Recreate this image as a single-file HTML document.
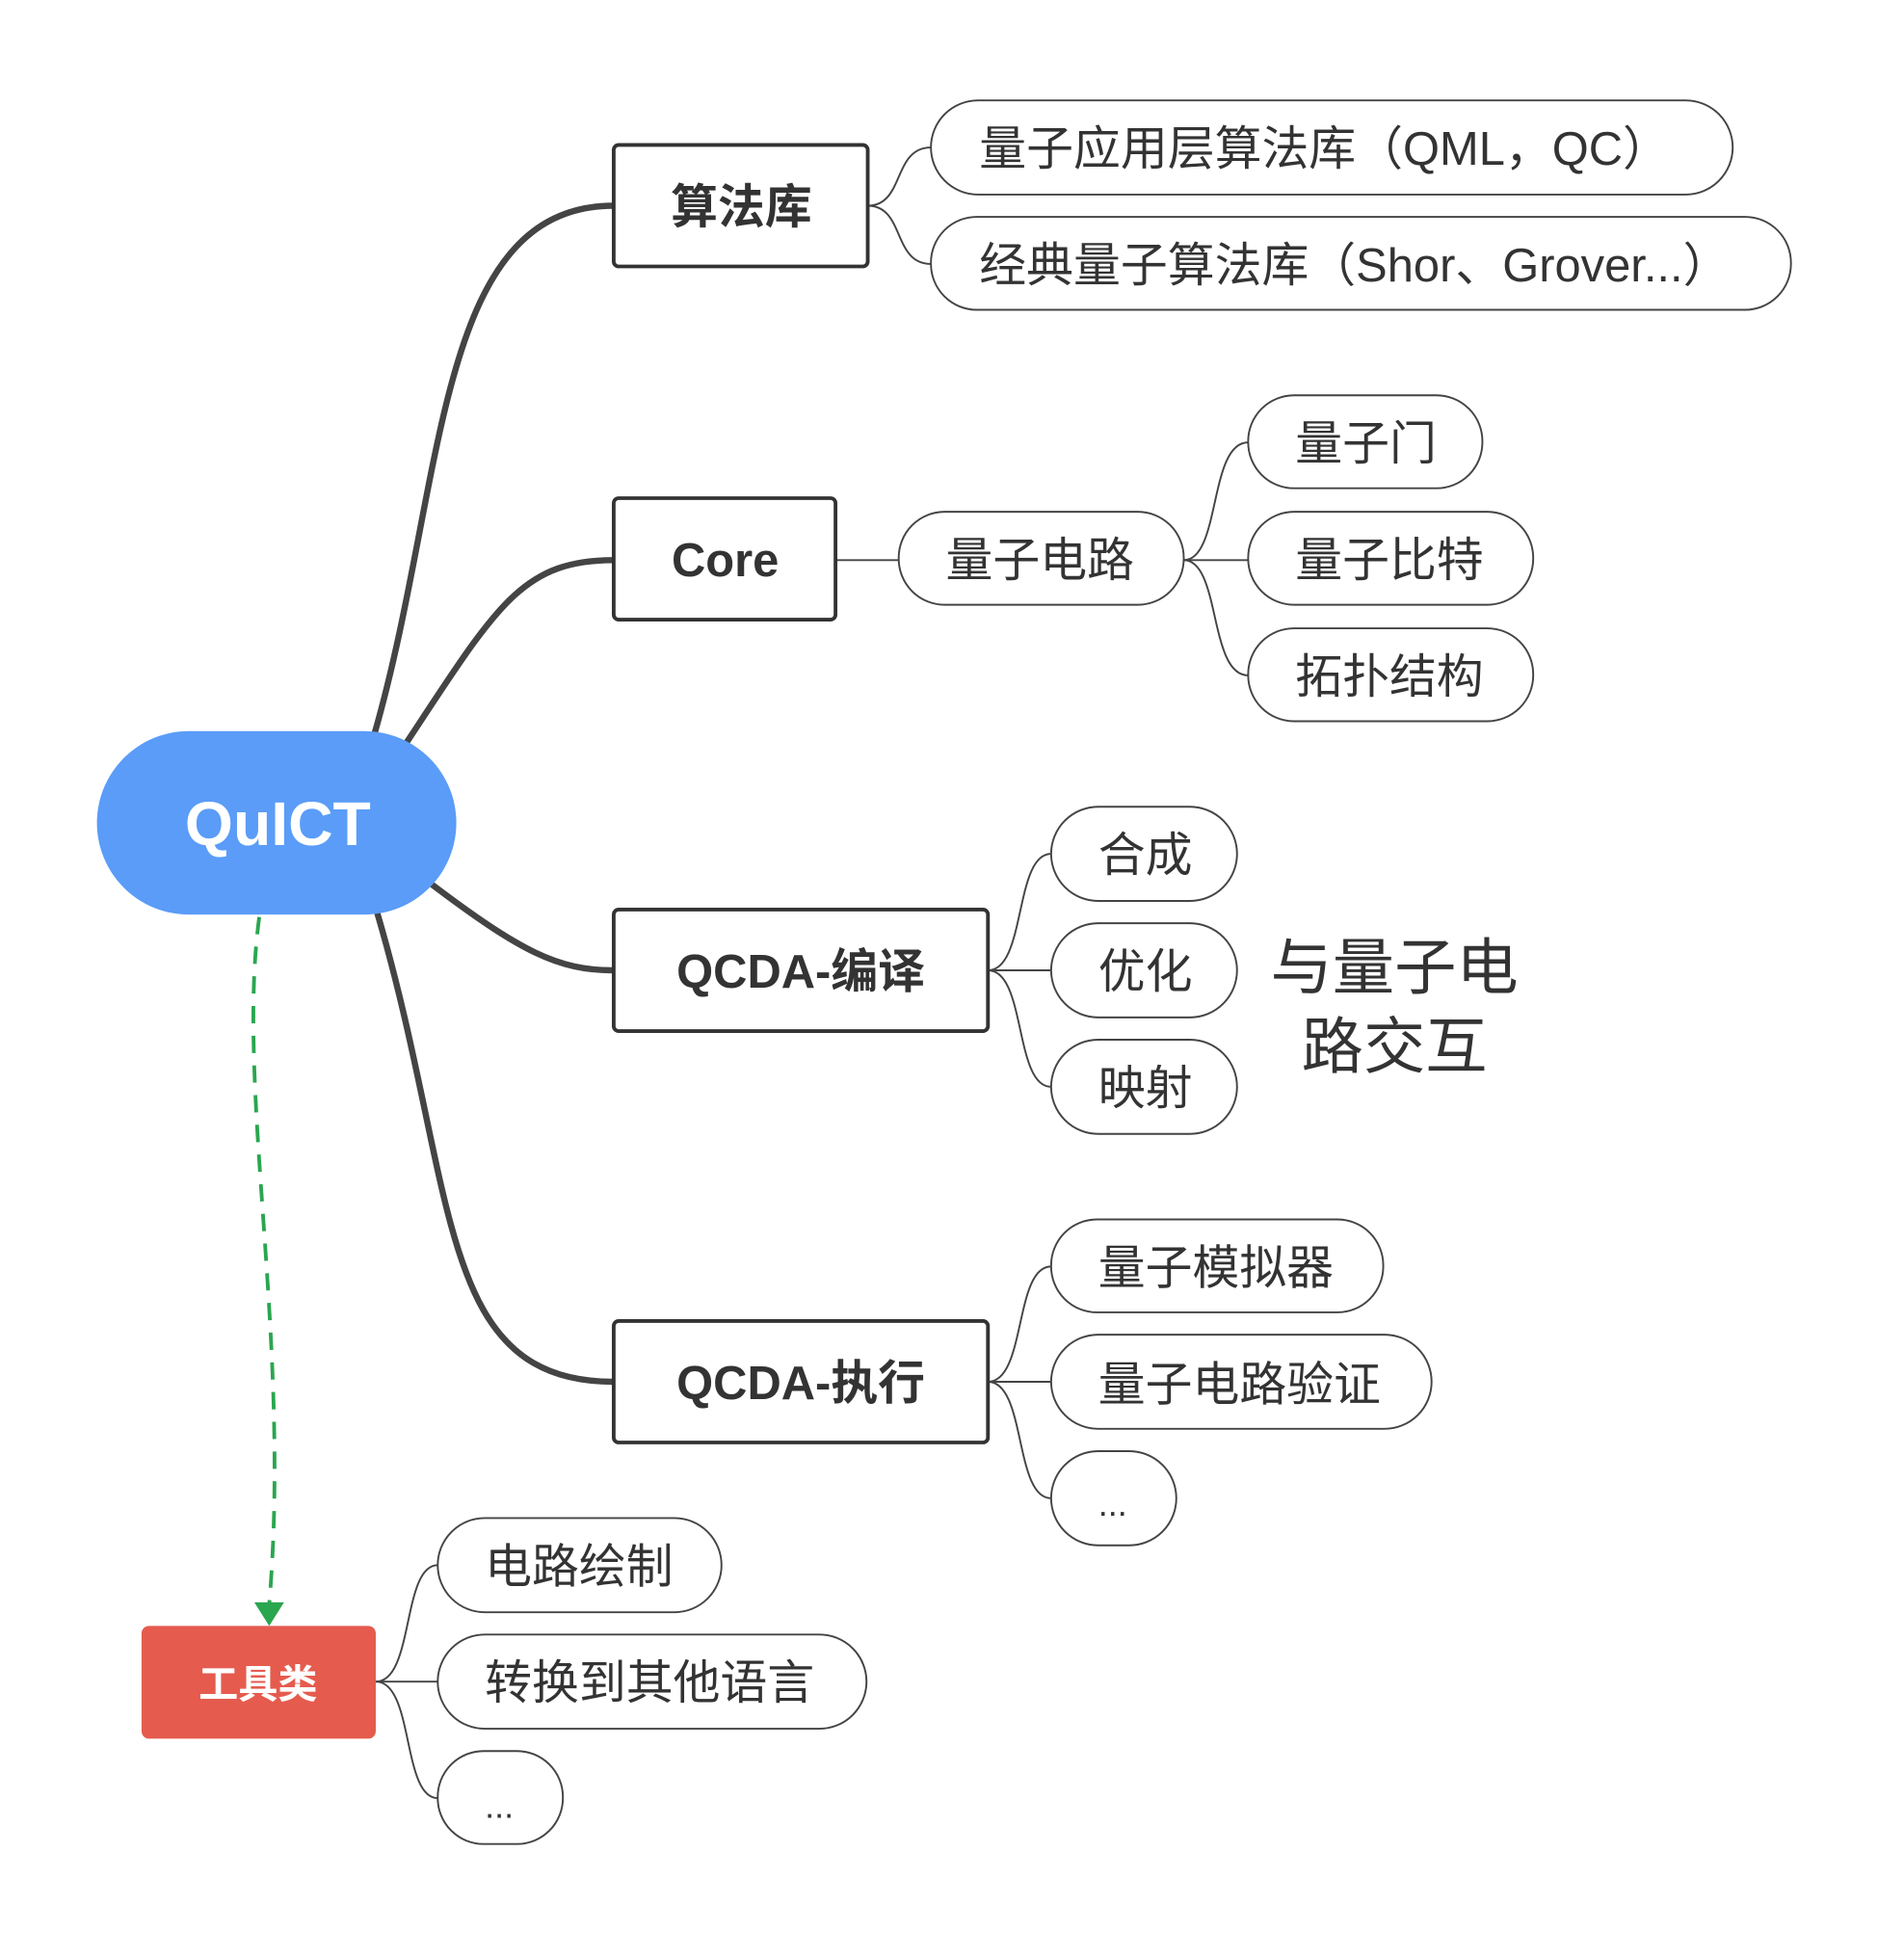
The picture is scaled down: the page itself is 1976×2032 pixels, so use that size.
<!DOCTYPE html>
<html><head><meta charset="utf-8"><style>
html,body{margin:0;padding:0;background:#fff}
svg{display:block}
text{font-family:"Liberation Sans","Noto Sans CJK SC",sans-serif;fill:#333}
.p{fill:#fff;stroke:#444;stroke-width:1.5}
.b{fill:#fff;stroke:#333;stroke-width:3}
.t{font-size:38px}
.bt{font-size:38px;font-weight:bold;text-anchor:middle}
.c{fill:none;stroke:#444;stroke-width:1.5}
.k{fill:none;stroke:#444;stroke-width:5}
</style></head><body>
<svg width="1976" height="2032" viewBox="0 0 1536 1580" xmlns="http://www.w3.org/2000/svg">
<!-- thick connectors -->
<path class="k" d="M302,592 C360,390 350,166 495,166"/>
<path class="k" d="M326,602 C400,490 420,452 495,452"/>
<path class="k" d="M346,712 C420,768 450,783 495,783"/>
<path class="k" d="M304,736 C370,960 350,1115 495,1115"/>
<!-- dashed -->
<path d="M209,740 C190,880 235,1080 217,1295" fill="none" stroke="#2aa64f" stroke-width="3" stroke-dasharray="14,10"/>
<polygon points="205,1293 229,1293 217,1312" fill="#2aa64f"/>
<!-- thin connectors -->
<path class="c" d="M700,166 C730,166 720,119 751,119"/>
<path class="c" d="M700,166 C730,166 720,213 751,213"/>
<path class="c" d="M674,452 L725,452"/>
<path class="c" d="M955,452 C985,452 975,357 1007,357"/>
<path class="c" d="M955,452 L1007,452"/>
<path class="c" d="M955,452 C985,452 975,545 1007,545"/>
<path class="c" d="M797,783 C828,783 818,689 848,689"/>
<path class="c" d="M797,783 L848,783"/>
<path class="c" d="M797,783 C828,783 818,877 848,877"/>
<path class="c" d="M797,1115 C828,1115 818,1022 848,1022"/>
<path class="c" d="M797,1115 L848,1115"/>
<path class="c" d="M797,1115 C828,1115 818,1209 848,1209"/>
<path class="c" d="M303,1357 C334,1357 324,1263 353,1263"/>
<path class="c" d="M303,1357 L353,1357"/>
<path class="c" d="M303,1357 C334,1357 324,1451 353,1451"/>
<!-- root -->
<rect x="78" y="590" width="290" height="148" rx="74" fill="#5a9cf8"/>
<text x="224" y="682" style="font-size:50px;font-weight:bold;fill:#fff;text-anchor:middle">QuICT</text>
<!-- boxes -->
<rect class="b" x="495" y="117" width="205" height="98" rx="4"/><text class="bt" x="598" y="180">算法库</text>
<rect class="b" x="495" y="402" width="179" height="98" rx="4"/><text class="bt" x="585" y="465">Core</text>
<rect class="b" x="495" y="734" width="302" height="98" rx="4"/><text class="bt" x="646" y="797">QCDA-编译</text>
<rect class="b" x="495" y="1066" width="302" height="98" rx="4"/><text class="bt" x="646" y="1129">QCDA-执行</text>
<rect x="114" y="1312" width="189" height="91" rx="6" fill="#e55b4e"/>
<text x="208" y="1370" style="font-size:32px;font-weight:bold;fill:#fff;text-anchor:middle">工具类</text>
<!-- pills -->
<rect class="p" x="751" y="81" width="647" height="76" rx="38"/><text class="t" x="790" y="133">量子应用层算法库（QML，QC）</text>
<rect class="p" x="751" y="175" width="694" height="75" rx="37"/><text class="t" x="790" y="227">经典量子算法库（Shor、Grover...）</text>
<rect class="p" x="1007" y="319" width="189" height="75" rx="37"/><text class="t" x="1045" y="371">量子门</text>
<rect class="p" x="725" y="413" width="230" height="75" rx="37"/><text class="t" x="763" y="465">量子电路</text>
<rect class="p" x="1007" y="413" width="230" height="75" rx="37"/><text class="t" x="1045" y="465">量子比特</text>
<rect class="p" x="1007" y="507" width="230" height="75" rx="37"/><text class="t" x="1045" y="559">拓扑结构</text>
<rect class="p" x="848" y="651" width="150" height="76" rx="38"/><text class="t" x="886" y="703">合成</text>
<rect class="p" x="848" y="745" width="150" height="76" rx="38"/><text class="t" x="886" y="797">优化</text>
<rect class="p" x="848" y="839" width="150" height="76" rx="38"/><text class="t" x="886" y="891">映射</text>
<text x="1125" y="798" style="font-size:50px;text-anchor:middle">与量子电</text>
<text x="1125" y="862" style="font-size:50px;text-anchor:middle">路交互</text>
<rect class="p" x="848" y="984" width="268" height="75" rx="37"/><text class="t" x="886" y="1036">量子模拟器</text>
<rect class="p" x="848" y="1077" width="307" height="76" rx="38"/><text class="t" x="886" y="1130">量子电路验证</text>
<rect class="p" x="848" y="1171" width="101" height="76" rx="38"/><text class="t" x="886" y="1223" style="font-size:28px">...</text>
<rect class="p" x="353" y="1225" width="229" height="76" rx="38"/><text class="t" x="391" y="1277">电路绘制</text>
<rect class="p" x="353" y="1319" width="346" height="76" rx="38"/><text class="t" x="391" y="1371">转换到其他语言</text>
<rect class="p" x="353" y="1413" width="101" height="75" rx="37"/><text class="t" x="391" y="1467" style="font-size:28px">...</text>
</svg>
</body></html>
